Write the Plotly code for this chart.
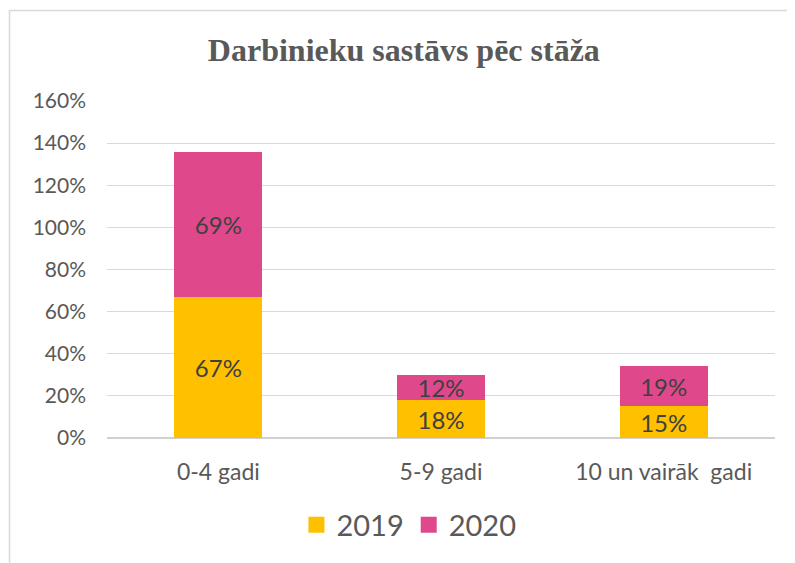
import plotly.graph_objects as go

categories = ["0-4 gadi", "5-9 gadi", "10 un vairāk  gadi"]
values_2019 = [67, 18, 15]
values_2020 = [69, 12, 19]
y_ticks = [0, 20, 40, 60, 80, 100, 120, 140, 160]
title_text = "Darbinieku sastāvs pēc stāža"

FONT = "Lato"
TXT = "#595959"
C2019 = "#FFC000"
C2020 = "#E0488C"

W, H = 787, 555
L, R, T, B = 99, 20, 93, 125
PW, PH = W - L - R, H - T - B

fig = go.Figure()
fig.add_trace(go.Bar(
    x=categories, y=values_2019, name="2019", marker_color=C2019,
    text=[f"{v}%" for v in values_2019], textposition="inside",
    insidetextanchor="middle", constraintext="none",
    textfont=dict(family=FONT, size=24, color="#404040"),
    marker_line_width=0, showlegend=False,
))
fig.add_trace(go.Bar(
    x=categories, y=values_2020, name="2020", marker_color=C2020,
    text=[f"{v}%" for v in values_2020], textposition="inside",
    insidetextanchor="middle", constraintext="none",
    textfont=dict(family=FONT, size=24, color="#404040"),
    marker_line_width=0, showlegend=False,
))
for nm, col in [("2019", C2019), ("2020", C2020)]:
    fig.add_trace(go.Scatter(
        x=[None], y=[None], mode="markers", name=nm,
        marker=dict(symbol="square", size=18, color=col),
    ))

fig.update_layout(
    barmode="stack",
    bargap=0.605,
    width=W, height=H,
    margin=dict(l=L, r=R, t=T, b=B, autoexpand=False),
    paper_bgcolor="white", plot_bgcolor="white",
    font=dict(family=FONT, color=TXT, size=20),
    title=dict(text="<b>" + title_text + "</b>", x=0.503, xanchor="center",
               y=1 - 42 / H, yanchor="middle",
               font=dict(family="Liberation Serif", size=32, color=TXT)),
    legend=dict(orientation="h", x=0.452, xanchor="center", y=(PH - 517 + T) / PH - 1 + 0, yanchor="middle",
                font=dict(family=FONT, size=29, color=TXT), itemwidth=30,
                traceorder="normal"),
    showlegend=True,
)
fig.update_layout(legend_y=(430 - 517) / PH)
fig.update_yaxes(range=[0, 160], tickmode="array", tickvals=y_ticks,
                 ticktext=[f"{v}%" for v in y_ticks],
                 showgrid=True, gridcolor="#D9D9D9", gridwidth=1.3,
                 zeroline=True, zerolinecolor="#D0D0D0", zerolinewidth=2,
                 showline=False, ticks="", ticklabelstandoff=20,
                 tickfont=dict(family=FONT, size=21, color=TXT))
fig.update_xaxes(showgrid=False, showline=False, ticks="", ticklabelstandoff=18,
                 tickfont=dict(family=FONT, size=23, color=TXT))

fig.add_shape(type="rect", xref="paper", yref="paper",
              x0=(1.5 - L) / PW, x1=1.2, y0=-0.6, y1=1 + (T - 2.5) / PH,
              line=dict(color="#D9D9D9", width=1.5), fillcolor="rgba(0,0,0,0)",
              layer="below")

fig.write_html("out.html")
